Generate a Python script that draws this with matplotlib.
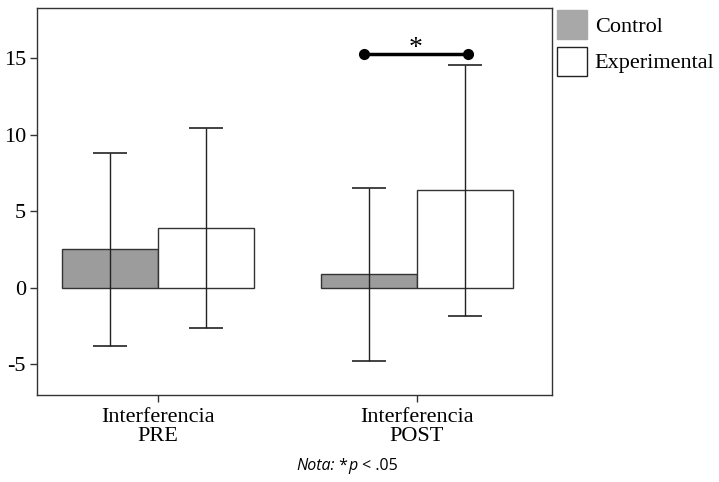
import matplotlib
matplotlib.use("Agg")
import matplotlib.pyplot as plt
import numpy as np
from matplotlib.patches import Patch
from matplotlib.offsetbox import TextArea, HPacker, AnchoredOffsetbox

groups = ["Interferencia\nPRE", "Interferencia\nPOST"]
series = ["Control", "Experimental"]
means_control = [2.54, 0.87]
means_exper = [3.91, 6.35]
upper_control = [8.82, 6.52]
lower_control = [-3.78, -4.8]
upper_exper = [10.44, 14.55]
lower_exper = [-2.61, -1.87]
sig_y = 15.24
sig_x = [0.795, 1.197]

serif = ["Liberation Serif", "DejaVu Serif"]
fig = plt.figure(figsize=(7.19, 4.82), dpi=100)
ax = fig.add_axes([37/719, 1-395/482, (552-37)/719, (395-8)/482])

x = np.arange(len(groups))
w = 0.37
ctrl_col = "#9c9c9c"
edge = "#333333"
ax.bar(x - w/2, means_control, w, color=ctrl_col, edgecolor=edge, linewidth=1.0, zorder=2)
ax.bar(x + w/2, means_exper, w, color="white", edgecolor=edge, linewidth=1.0, zorder=2)

mc = np.array(means_control); me = np.array(means_exper)
ax.errorbar(x - w/2, mc, yerr=[mc - np.array(lower_control), np.array(upper_control) - mc],
            fmt="none", ecolor="#222222", elinewidth=1.0, capsize=12, capthick=1.2, zorder=3)
ax.errorbar(x + w/2, me, yerr=[me - np.array(lower_exper), np.array(upper_exper) - me],
            fmt="none", ecolor="#222222", elinewidth=1.0, capsize=12, capthick=1.2, zorder=3)

ax.plot(sig_x, [sig_y, sig_y], color="black", linewidth=2.5, marker="o", markersize=7, zorder=4)
ax.text(np.mean(sig_x), sig_y - 0.45, "*", ha="center", va="bottom", fontsize=20, family=serif)

ax.set_xlim(-0.467, 1.521)
ax.set_ylim(-7, 18.26)
ax.set_yticks([-5, 0, 5, 10, 15])
ax.set_yticklabels(["-5", "0", "5", "10", "15"])
ax.set_xticks(x)
ax.set_xticklabels(groups, linespacing=1.05)
for lab in ax.get_xticklabels() + ax.get_yticklabels():
    lab.set_family(serif)
    lab.set_fontsize(16)
ax.tick_params(axis="both", length=5, width=1, color="#333333", pad=3)
ax.tick_params(axis="x", pad=4)
for s in ax.spines.values():
    s.set_linewidth(1.0)
    s.set_color("#333333")

handles = [Patch(facecolor="#a8a8a8", edgecolor="#a8a8a8", label="Control"),
           Patch(facecolor="white", edgecolor="#222222", label="Experimental")]
fig.legend(handles=handles, loc="upper left", bbox_to_anchor=(548/719, 1-1/482),
           frameon=False, prop={"family": serif, "size": 16},
           handlelength=1.35, handleheight=1.62, handletextpad=0.35, labelspacing=0.36,
           borderaxespad=0.0)

# Note
parts = [("Nota:", "italic"), (" *", "normal"), ("p", "italic"), (" < .05", "normal")]
boxes = [TextArea(t, textprops=dict(family=["Open Sans", "DejaVu Sans"], style=st, fontsize=11.5))
         for t, st in parts]
pack = HPacker(children=boxes, align="baseline", pad=0, sep=0)
ab = AnchoredOffsetbox(loc="center", child=pack, frameon=False,
                       bbox_to_anchor=(347/719, 1-466/482), bbox_transform=fig.transFigure,
                       borderpad=0, pad=0)
fig.add_artist(ab)

fig.savefig("out.png", dpi=100)
